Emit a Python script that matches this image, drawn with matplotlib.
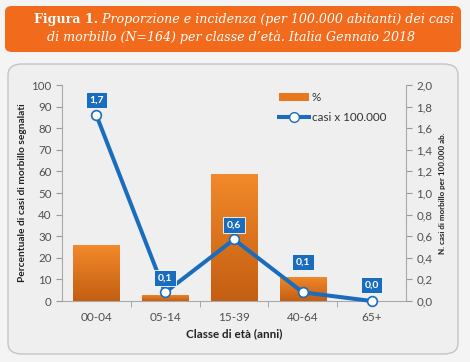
import numpy as np
import matplotlib.pyplot as plt
from matplotlib.patches import FancyBboxPatch, Patch
from matplotlib.lines import Line2D
from matplotlib.colors import LinearSegmentedColormap

# data
classi = ['00-04', '05-14', '15-39', '40-64', '65+']
percentuale = [25.9, 2.8, 58.6, 11.3, 0.0]      # % of cases (bars, left axis)
incidenza = [1.72, 0.08, 0.57, 0.08, 0.0]       # cases per 100.000 (line, right axis)
etichette = ['1,7', '0,1', '0,6', '0,1', '0,0']

orange = '#e8781e'
blue = '#1a6dbd'
grey = '#505050'
sans = ['Lato', 'DejaVu Sans']

fig = plt.figure(figsize=(4.7, 3.62), dpi=100)
fig.patch.set_facecolor('#f4f4f4')

# chart panel and title box
panel = FancyBboxPatch((8 / 470, 8 / 362), 450 / 470, 290 / 362,
                       boxstyle='round,pad=0,rounding_size=0.03',
                       transform=fig.transFigure, facecolor='#efefef',
                       edgecolor='#c4c4c4', lw=1.0, zorder=0)
fig.patches.append(panel)
tbox = FancyBboxPatch((5 / 470, 310 / 362), 456 / 470, 46 / 362,
                      boxstyle='round,pad=0,rounding_size=0.015',
                      transform=fig.transFigure, facecolor='#f26b1d',
                      edgecolor='none', zorder=0)
fig.patches.append(tbox)

serif = 'DejaVu Serif'
fs = 9.1
t_bold = fig.text(0, 343 / 362, 'Figura 1.', color='white', fontsize=fs,
                  fontweight='bold', family=serif, va='center')
t_it = fig.text(0, 343 / 362, ' Proporzione e incidenza (per 100.000 abitanti) dei casi',
                color='white', fontsize=fs, style='italic', family=serif, va='center')
fig.text(231 / 470, 325 / 362, "di morbillo (N=164) per classe d\u2019et\u00e0. Italia Gennaio 2018",
         color='white', fontsize=fs, style='italic', family=serif,
         ha='center', va='center')
fig.canvas.draw()
r = fig.canvas.get_renderer()
wb = t_bold.get_window_extent(r).width
wi = t_it.get_window_extent(r).width
x0 = (244 - (wb + wi) / 2) / 470
t_bold.set_x(x0)
t_it.set_x(x0 + wb / 470)

ax1 = fig.add_axes([62 / 470, 61 / 362, 344 / 470, 216 / 362])
ax1.set_zorder(2)
ax1.set_facecolor('none')
x = np.arange(len(classi))
bars = ax1.bar(x, percentuale, width=0.67, color=orange, zorder=2)

# vertical gradient inside each bar
grad = np.linspace(0, 1, 100).reshape(-1, 1)
cm = LinearSegmentedColormap.from_list('og', ['#c45e12', '#f2892a'])
for b in bars:
    if b.get_height() <= 0:
        continue
    im = ax1.imshow(grad, cmap=cm, aspect='auto', origin='lower',
                    extent=[b.get_x(), b.get_x() + b.get_width(), 0, b.get_height()],
                    zorder=2.1)
    im.set_clip_path(b)

ax1.set_xlim(-0.5, 4.5)
ax1.set_ylim(0, 100)
ax1.set_yticks(range(0, 101, 10))
ax1.set_xticks(x)
ax1.set_xticklabels(classi, family=sans, fontsize=8.5)
ax1.set_xticks(np.arange(0.5, 4.5, 1), minor=True)
ax1.tick_params(axis='x', which='major', length=0, colors=grey, pad=8)
ax1.tick_params(axis='x', which='minor', length=4, color='#9a9a9a', direction='out')
ax1.tick_params(axis='y', length=4, color='#9a9a9a', labelcolor=grey)
for t in ax1.get_yticklabels():
    t.set_family(sans)
    t.set_fontsize(8.3)
ax1.set_ylabel('Percentuale di casi di morbillo segnalati', fontsize=7.3,
               fontweight='bold', color='#222222', labelpad=3, family=sans)
ax1.set_xlabel('Classe di et\u00e0 (anni)', fontsize=8.4, fontweight='bold',
               color='#222222', labelpad=4, family=sans)
for s in ['top', 'right']:
    ax1.spines[s].set_visible(False)
for s in ['left', 'bottom']:
    ax1.spines[s].set_color('#a8a8a8')

ax2 = ax1.twinx()
ax2.set_zorder(3)
ax2.plot(x, incidenza, color=blue, lw=2.9, marker='o', markersize=7,
         markerfacecolor='white', markeredgecolor=blue, markeredgewidth=1.2,
         zorder=5, clip_on=False)
ax2.set_ylim(0, 2)
ax2.set_yticks(np.arange(0, 2.01, 0.2))
ax2.set_yticklabels([f'{v:.1f}'.replace('.', ',') for v in np.arange(0, 2.01, 0.2)],
                    family=sans, fontsize=8.3)
ax2.tick_params(axis='y', length=4, color='#9a9a9a', labelcolor=grey)
ax2.set_ylabel('N. casi di morbillo per 100.000 ab.', fontsize=5.8,
               fontweight='bold', color='#222222', labelpad=5, family=sans)
for s in ['top', 'left', 'bottom']:
    ax2.spines[s].set_visible(False)
ax2.spines['right'].set_color('#a8a8a8')

offsets = [11, 10.5, 10.5, 22, 11.5]
for xi, yi, lab, off in zip(x, incidenza, etichette, offsets):
    ax2.annotate(lab, (xi, yi), xytext=(0, off), textcoords='offset points',
                 ha='center', va='center', color='white', fontsize=7.5,
                 fontweight='bold', family=sans,
                 bbox=dict(boxstyle='square,pad=0.35', facecolor=blue,
                           edgecolor='white', lw=0.6), zorder=6)

handles = [Patch(facecolor=orange, edgecolor='none'),
           Line2D([], [], color=blue, lw=2.9, marker='o', markersize=7,
                  markerfacecolor='white', markeredgecolor=blue)]
ax2.legend(handles, ['%', 'casi x 100.000'], loc='upper left',
           bbox_to_anchor=(0.6, 1.015), frameon=False,
           prop={'family': sans, 'size': 8.4},
           handlelength=2.6, handleheight=0.6, labelspacing=0.75,
           handletextpad=0.2, labelcolor='#333333')

fig.savefig('out.png', dpi=100, facecolor=fig.get_facecolor())
